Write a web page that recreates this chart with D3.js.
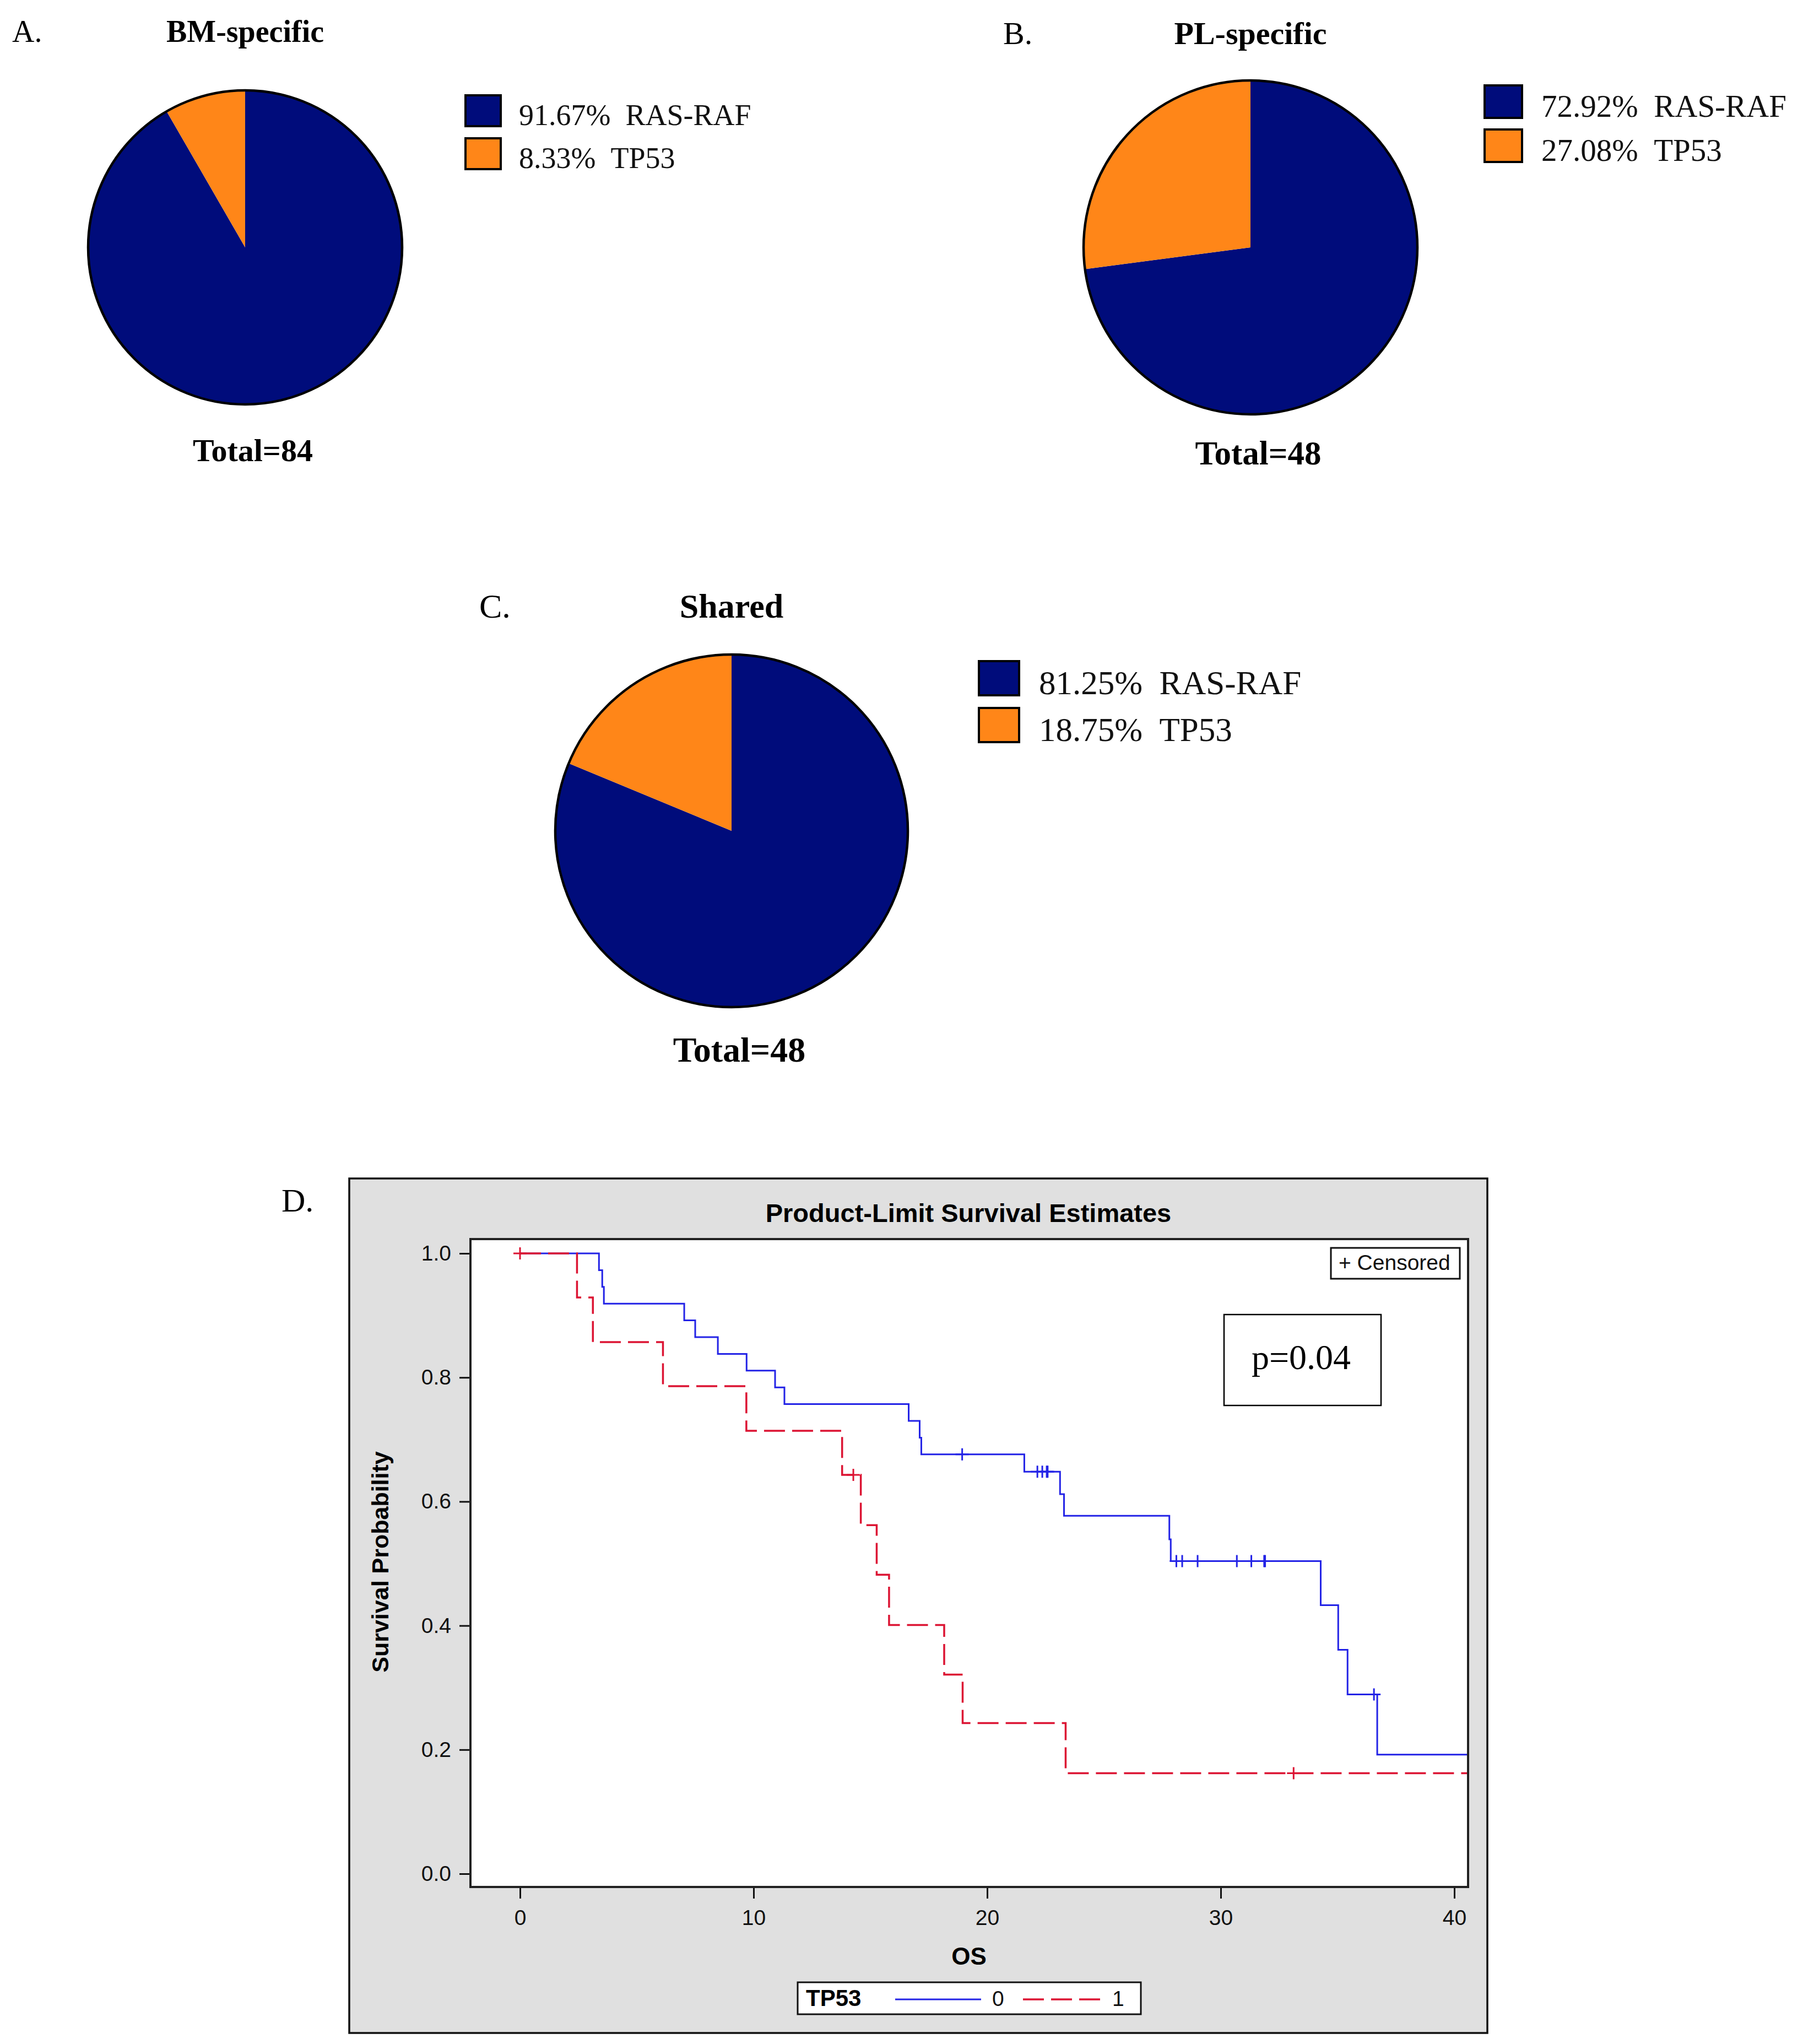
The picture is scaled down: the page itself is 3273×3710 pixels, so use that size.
<!DOCTYPE html>
<html>
<head>
<meta charset="utf-8">
<script src="https://cdn.jsdelivr.net/npm/d3@7"></script>
<style>
	body { margin: 0; background: #fff; }
	svg { display: block; }
</style>
</head>
<body>
<div id="figure"></div>
<script>
// pie data
var pieGroups = ['RAS-RAF', 'TP53'];
var bmValues = [91.67, 8.33];
var plValues = [72.92, 27.08];
var sharedValues = [81.25, 18.75];
var pieTitles = ['BM-specific', 'PL-specific', 'Shared'];
var pieLetters = ['A.', 'B.', 'C.'];
var pieTotals = [84, 48, 48];

// survival data, TP53 = 0
var tp53_0_time = [0, 3.38, 3.52, 3.59, 7.03, 7.50, 8.47, 9.70, 10.92, 11.32, 16.64, 17.11, 17.18, 21.59, 23.12, 23.29, 27.80, 27.86, 34.28, 35.03, 35.43, 36.70];
var tp53_0_surv = [1, 0.973, 0.946, 0.919, 0.892, 0.865, 0.838, 0.811, 0.784, 0.757, 0.730, 0.703, 0.676, 0.648, 0.612, 0.577, 0.539, 0.504, 0.433, 0.361, 0.289, 0.192];
var tp53_0_censor = [18.93, 22.15, 22.36, 22.55, 22.59, 28.10, 28.35, 29.01, 30.69, 31.31, 31.86, 31.90, 36.56];

// survival data, TP53 = 1
var tp53_1_time = [0, 2.44, 3.12, 6.12, 9.69, 13.79, 14.59, 15.27, 15.80, 18.16, 18.95, 23.36];
var tp53_1_surv = [1, 0.929, 0.857, 0.786, 0.714, 0.643, 0.562, 0.482, 0.401, 0.321, 0.243, 0.162];
var tp53_1_censor = [0, 14.27, 33.12];

var xTicks = [0, 10, 20, 30, 40];
var yTicks = [0, 0.2, 0.4, 0.6, 0.8, 1.0];

var navy = '#000c7b';
var orange = '#ff8618';
var serif = '"Liberation Serif", "DejaVu Serif", serif';
var sans = '"Liberation Sans", Arial, sans-serif';

var svg = d3.select('#figure')
	.append('svg')
	.attr('width', 3273)
	.attr('height', 3710);

svg.append('rect')
	.attr('width', 3273)
	.attr('height', 3710)
	.attr('fill', '#fff');

// layout of the three pie panels
var pieLayout = [
	{cx: 445, cy: 449, r: 285, letterX: 22, titleY: 76, titleSize: 56, legX: 845, legY: 173, boxW: 64, boxH: 56, rowGap: 78, legSize: 54, textX: 942, totalY: 837, totalSize: 58},
	{cx: 2270, cy: 449, r: 303, letterX: 1821, titleY: 80, titleSize: 58, legX: 2695, legY: 155, boxW: 68, boxH: 59, rowGap: 80, legSize: 57, textX: 2798, totalY: 843, totalSize: 61},
	{cx: 1328, cy: 1508, r: 320, letterX: 870, titleY: 1121, titleSize: 62, legX: 1777, legY: 1200, boxW: 73, boxH: 62, rowGap: 85, legSize: 61, textX: 1886, totalY: 1927, totalSize: 64}
];

var pieColor = d3.scaleOrdinal()
	.domain(pieGroups)
	.range([navy, orange]);

function drawPie(values, i) {
	let lay = pieLayout[i];
	let g = svg.append('g').attr('class', 'pie_panel');

	let pie = d3.pie()
		.sort(null)
		.value(function (d) { return d.value; });

	let arc = d3.arc()
		.innerRadius(0)
		.outerRadius(lay.r);

	let rows = pieGroups.map(function (name, k) {
		return {name: name, value: values[k]};
	});

	g.append('g')
		.attr('transform', 'translate(' + lay.cx + ',' + lay.cy + ')')
		.selectAll('path')
		.data(pie(rows))
		.enter()
		.append('path')
		.attr('d', arc)
		.attr('fill', function (d) { return pieColor(d.data.name); });

	g.append('circle')
		.attr('cx', lay.cx)
		.attr('cy', lay.cy)
		.attr('r', lay.r)
		.attr('fill', 'none')
		.attr('stroke', '#000')
		.attr('stroke-width', 4.5);

	// panel letter and title
	g.append('text')
		.attr('x', lay.letterX)
		.attr('y', lay.titleY)
		.attr('font-family', serif)
		.attr('font-size', lay.titleSize)
		.text(pieLetters[i]);

	g.append('text')
		.attr('x', lay.cx)
		.attr('y', lay.titleY)
		.attr('text-anchor', 'middle')
		.attr('font-family', serif)
		.attr('font-weight', 'bold')
		.attr('font-size', lay.titleSize)
		.text(pieTitles[i]);

	g.append('text')
		.attr('x', lay.cx + 14)
		.attr('y', lay.totalY)
		.attr('text-anchor', 'middle')
		.attr('font-family', serif)
		.attr('font-weight', 'bold')
		.attr('font-size', lay.totalSize)
		.text('Total=' + pieTotals[i]);

	// legend
	let leg = g.selectAll('.legend_row')
		.data(rows)
		.enter()
		.append('g')
		.attr('class', 'legend_row')
		.attr('transform', function (d, k) {
			return 'translate(0,' + (lay.legY + k * lay.rowGap) + ')';
		});

	leg.append('rect')
		.attr('x', lay.legX)
		.attr('y', 0)
		.attr('width', lay.boxW)
		.attr('height', lay.boxH)
		.attr('fill', function (d) { return pieColor(d.name); })
		.attr('stroke', '#000')
		.attr('stroke-width', 4);

	let t = leg.append('text')
		.attr('x', lay.textX)
		.attr('y', lay.boxH - 2)
		.attr('font-family', serif)
		.attr('font-size', lay.legSize)
		.attr('fill', '#111');
	t.append('tspan')
		.text(function (d) { return d.value.toFixed(2) + '%'; });
	t.append('tspan')
		.attr('dx', '0.5em')
		.text(function (d) { return d.name; });
}

drawPie(bmValues, 0);
drawPie(plValues, 1);
drawPie(sharedValues, 2);

// ---------- D. survival plot ----------
var km = {
	boxLeft: 634, boxTop: 2139, boxRight: 2700, boxBottom: 3690,
	left: 854, top: 2249, right: 2665, bottom: 3425
};

var x = d3.scaleLinear()
	.domain([0, 40])
	.range([944, 2640]);

var y = d3.scaleLinear()
	.domain([0, 1])
	.range([3401, 2275]);

var d = svg.append('g').attr('class', 'km_panel');

d.append('rect')
	.attr('x', km.boxLeft)
	.attr('y', km.boxTop)
	.attr('width', km.boxRight - km.boxLeft)
	.attr('height', km.boxBottom - km.boxTop)
	.attr('fill', '#e0e0e0')
	.attr('stroke', '#111')
	.attr('stroke-width', 3.5);

d.append('text')
	.attr('x', 511)
	.attr('y', 2199)
	.attr('font-family', serif)
	.attr('font-size', 60)
	.text('D.');

d.append('text')
	.attr('x', 1758)
	.attr('y', 2218)
	.attr('text-anchor', 'middle')
	.attr('font-family', sans)
	.attr('font-weight', 'bold')
	.attr('font-size', 47)
	.text('Product-Limit Survival Estimates');

d.append('rect')
	.attr('x', km.left)
	.attr('y', km.top)
	.attr('width', km.right - km.left)
	.attr('height', km.bottom - km.top)
	.attr('fill', '#fff');

d.append('defs')
	.append('clipPath')
	.attr('id', 'plotClip')
	.append('rect')
	.attr('x', km.left)
	.attr('y', km.top)
	.attr('width', km.right - km.left)
	.attr('height', km.bottom - km.top);

// axes
var yAxis = d.append('g')
	.attr('transform', 'translate(' + (km.left - 1) + ',0)')
	.call(d3.axisLeft(y).tickValues(yTicks).tickSize(19).tickPadding(15).tickFormat(d3.format('.1f')));

var xAxis = d.append('g')
	.attr('transform', 'translate(0,' + (km.bottom + 1) + ')')
	.call(d3.axisBottom(x).tickValues(xTicks).tickSize(20).tickPadding(20).tickFormat(d3.format('d')));

[yAxis, xAxis].forEach(function (ax) {
	ax.select('.domain').remove();
	ax.selectAll('.tick line')
		.attr('stroke', '#111')
		.attr('stroke-width', 3);
	ax.selectAll('.tick text')
		.attr('font-family', sans)
		.attr('font-size', 39)
		.attr('fill', '#111');
});

d.append('text')
	.attr('transform', 'translate(705,2835) rotate(-90)')
	.attr('text-anchor', 'middle')
	.attr('font-family', sans)
	.attr('font-weight', 'bold')
	.attr('font-size', 43)
	.text('Survival Probability');

d.append('text')
	.attr('x', 1759)
	.attr('y', 3566)
	.attr('text-anchor', 'middle')
	.attr('font-family', sans)
	.attr('font-weight', 'bold')
	.attr('font-size', 44)
	.text('OS');

// step curves
var xEnd = x.invert(km.right);

function stepPoints(times, surv) {
	let pts = times.map(function (t, k) { return [t, surv[k]]; });
	pts.push([xEnd, surv[surv.length - 1]]);
	return pts;
}

function survAt(times, surv, t) {
	let s = surv[0];
	for (let k = 0; k < times.length; ++k) {
		if (times[k] <= t) s = surv[k];
	}
	return s;
}

var stepLine = d3.line()
	.x(function (p) { return x(p[0]); })
	.y(function (p) { return y(p[1]); })
	.curve(d3.curveStepAfter);

var series = [
	{name: '0', time: tp53_0_time, surv: tp53_0_surv, censor: tp53_0_censor, color: '#2323e6', width: 3, dash: null},
	{name: '1', time: tp53_1_time, surv: tp53_1_surv, censor: tp53_1_censor, color: '#dc1433', width: 3.5, dash: '38,13'}
];

var curves = d.append('g').attr('clip-path', 'url(#plotClip)');

series.forEach(function (s) {
	curves.append('path')
		.datum(stepPoints(s.time, s.surv))
		.attr('d', stepLine)
		.attr('fill', 'none')
		.attr('stroke', s.color)
		.attr('stroke-width', s.width)
		.attr('stroke-dasharray', s.dash);

	curves.append('g')
		.selectAll('path')
		.data(s.censor)
		.enter()
		.append('path')
		.attr('d', function (t) {
			let cx = x(t), cy = y(survAt(s.time, s.surv, t));
			return 'M' + (cx - 12) + ',' + cy + 'H' + (cx + 12) + 'M' + cx + ',' + (cy - 11) + 'V' + (cy + 11);
		})
		.attr('fill', 'none')
		.attr('stroke', s.color)
		.attr('stroke-width', 3);
});

// plot frame
d.append('rect')
	.attr('x', km.left)
	.attr('y', km.top)
	.attr('width', km.right - km.left)
	.attr('height', km.bottom - km.top)
	.attr('fill', 'none')
	.attr('stroke', '#222')
	.attr('stroke-width', 4);

// censored key
d.append('rect')
	.attr('x', 2416)
	.attr('y', 2265)
	.attr('width', 234)
	.attr('height', 56)
	.attr('fill', '#fff')
	.attr('stroke', '#111')
	.attr('stroke-width', 3);

d.append('text')
	.attr('x', 2430)
	.attr('y', 2305)
	.attr('font-family', sans)
	.attr('font-size', 39)
	.attr('fill', '#111')
	.text('+ Censored');

// p value box
d.append('rect')
	.attr('x', 2222)
	.attr('y', 2386)
	.attr('width', 285)
	.attr('height', 165)
	.attr('fill', '#fff')
	.attr('stroke', '#000')
	.attr('stroke-width', 2.5);

d.append('text')
	.attr('x', 2362)
	.attr('y', 2485)
	.attr('text-anchor', 'middle')
	.attr('font-family', serif)
	.attr('font-size', 64)
	.text('p=0.04');

// group legend
var legG = d.append('g');

legG.append('rect')
	.attr('x', 1448)
	.attr('y', 3598)
	.attr('width', 623)
	.attr('height', 58)
	.attr('fill', '#fff')
	.attr('stroke', '#111')
	.attr('stroke-width', 3);

legG.append('text')
	.attr('x', 1463)
	.attr('y', 3641)
	.attr('font-family', sans)
	.attr('font-weight', 'bold')
	.attr('font-size', 42)
	.text('TP53');

var legX = [1625, 1857];
var legW = [156, 142];

series.forEach(function (s, k) {
	legG.append('line')
		.attr('x1', legX[k])
		.attr('x2', legX[k] + legW[k])
		.attr('y1', 3629)
		.attr('y2', 3629)
		.attr('stroke', s.color)
		.attr('stroke-width', s.width)
		.attr('stroke-dasharray', s.dash);

	legG.append('text')
		.attr('x', legX[k] + legW[k] + 20)
		.attr('y', 3641)
		.attr('font-family', sans)
		.attr('font-size', 39)
		.attr('fill', '#111')
		.text(s.name);
});
</script>
</body>
</html>
